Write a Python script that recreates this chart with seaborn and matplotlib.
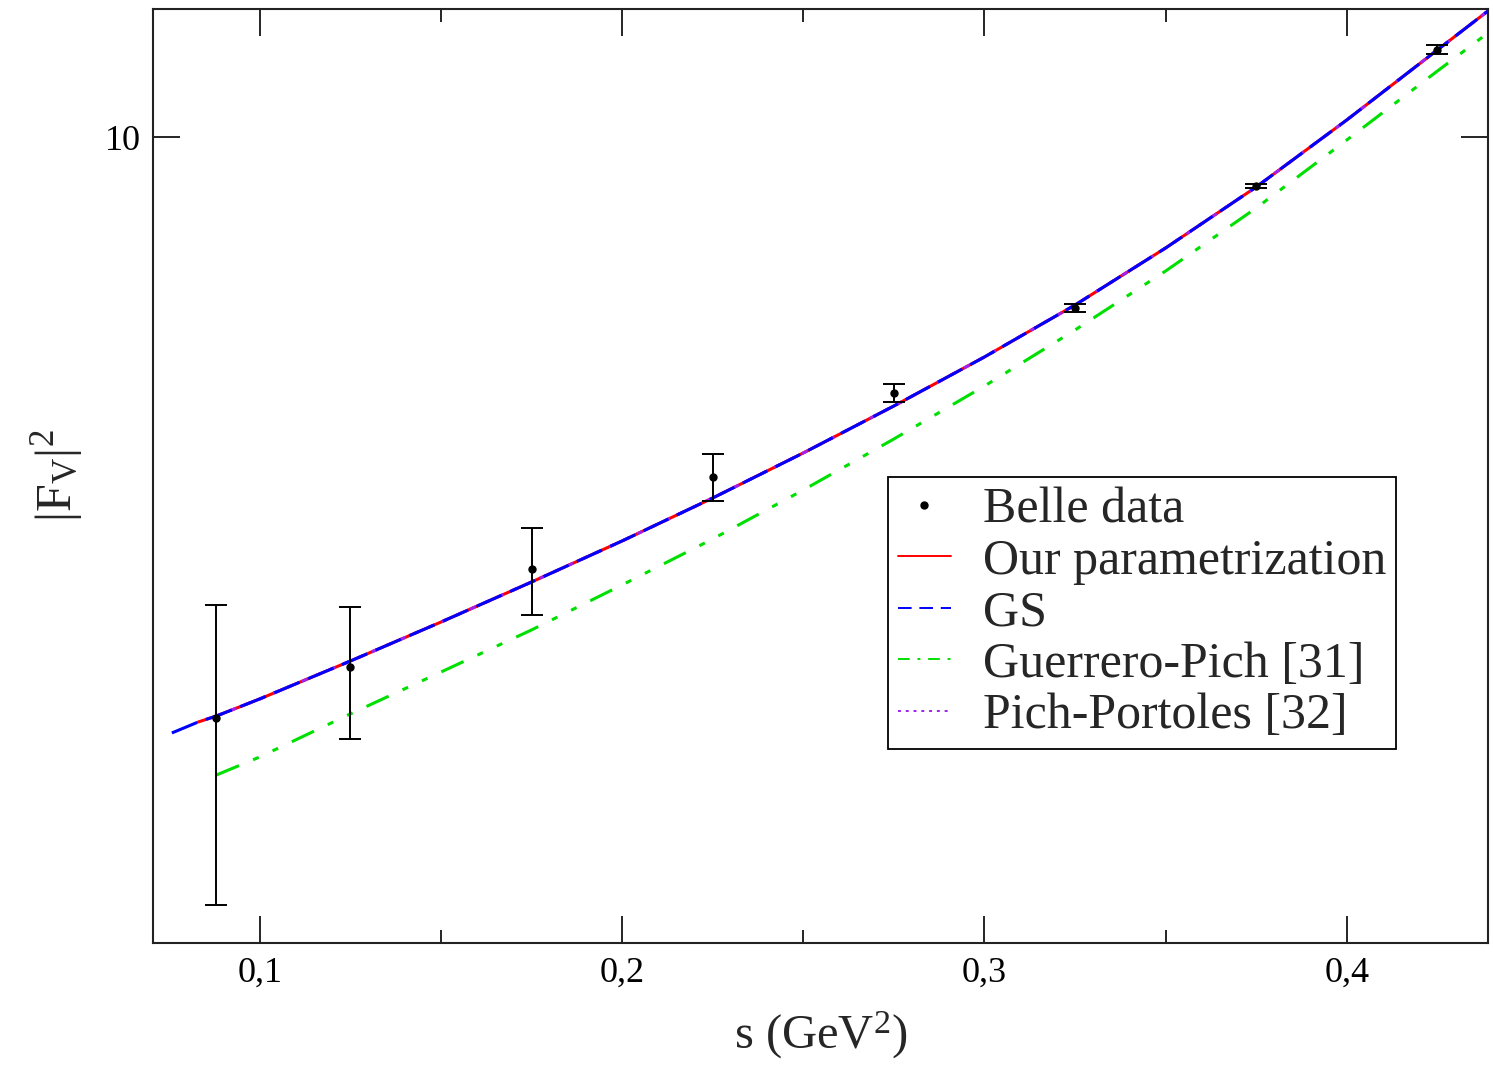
import numpy as np
import pandas as pd
import matplotlib
matplotlib.use("Agg")
import matplotlib.pyplot as plt
from matplotlib.lines import Line2D
from matplotlib.ticker import NullLocator, FixedLocator
import seaborn as sns

# Belle measurements of |F_V|^2
belle_s = [0.088, 0.125, 0.175, 0.225, 0.275, 0.325, 0.375, 0.425]
belle_f2 = [2.624, 2.951, 3.698, 4.571, 5.546, 6.745, 8.933, 12.22]
belle_err_lo = [0.918, 0.451, 0.371, 0.246, 0.113, 0.062, 0.040, 0.11]
belle_err_hi = [0.780, 0.437, 0.366, 0.248, 0.116, 0.063, 0.040, 0.14]

# Our parametrization
ours_s = [0.083, 0.088, 0.1, 0.125, 0.15, 0.175, 0.2, 0.225, 0.25, 0.275,
          0.3, 0.325, 0.35, 0.375, 0.4, 0.425, 0.439]
ours_f2 = [2.600, 2.636, 2.742, 2.992, 3.273, 3.589, 3.945, 4.355, 4.831,
           5.383, 6.026, 6.792, 7.745, 8.913, 10.40, 12.22, 13.37]

# Gounaris-Sakurai
gs_s = [0.0757, 0.083, 0.088, 0.1, 0.125, 0.15, 0.175, 0.2, 0.225, 0.25,
        0.275, 0.3, 0.325, 0.35, 0.375, 0.4, 0.425, 0.439]
gs_f2 = [2.535, 2.600, 2.636, 2.742, 2.992, 3.273, 3.589, 3.945, 4.355,
         4.831, 5.383, 6.026, 6.792, 7.745, 8.913, 10.40, 12.22, 13.37]

# Guerrero-Pich
gp_s = [0.088, 0.1, 0.125, 0.15, 0.175, 0.2, 0.225, 0.25, 0.275, 0.3,
        0.325, 0.35, 0.375, 0.4, 0.425, 0.439]
gp_f2 = [2.301, 2.399, 2.649, 2.917, 3.214, 3.565, 3.963, 4.436, 4.989,
         5.636, 6.412, 7.345, 8.492, 9.931, 11.64, 12.71]

# Pich-Portoles
pp_s = [0.088, 0.1, 0.125, 0.15, 0.175, 0.2, 0.225, 0.25, 0.275, 0.3,
        0.325, 0.35, 0.375, 0.4, 0.425, 0.439]
pp_f2 = [2.636, 2.742, 2.992, 3.273, 3.589, 3.945, 4.355, 4.831, 5.383,
         6.026, 6.792, 7.745, 8.913, 10.40, 12.22, 13.37]

x_ticks = [0.1, 0.2, 0.3, 0.4]
x_ticklabels = ["0,1", "0,2", "0,3", "0,4"]
x_minor = [0.15, 0.25, 0.35]
y_ticks = [10]
y_ticklabels = ["10"]

sns.set_style("ticks")
plt.rcParams["font.family"] = ["Liberation Serif", "DejaVu Serif"]
plt.rcParams["mathtext.fontset"] = "custom"
plt.rcParams["mathtext.rm"] = "Liberation Serif"
plt.rcParams["mathtext.it"] = "Liberation Serif:italic"

fig = plt.figure(figsize=(14.93, 10.65), dpi=100)
ax = fig.add_axes([0.1025, 0.1146, 0.8942, 0.8770])

sns.lineplot(x=gp_s, y=gp_f2, ax=ax, color="#00e000", lw=2.2,
             linestyle=(0, (8, 5, 2, 5, 2, 5)), sort=False)
sns.lineplot(x=ours_s, y=ours_f2, ax=ax, color="#ff0000", lw=2.2, sort=False)
sns.lineplot(x=pp_s, y=pp_f2, ax=ax, color="#a020f0", lw=2.2,
             linestyle=(0, (2, 3)), sort=False)
sns.lineplot(x=gs_s, y=gs_f2, ax=ax, color="#0000ff", lw=2.2,
             linestyle=(0, (9, 3)), sort=False)

yerr = np.array([belle_err_lo, belle_err_hi])
ax.errorbar(belle_s, belle_f2, yerr=yerr, fmt="o", color="black", ms=5,
            elinewidth=1.4, capsize=8, capthick=1.4, zorder=5)

ax.set_yscale("log")
ax.set_xlim(0.0705, 0.439)
ax.set_ylim(1.563, 13.43)

ax.xaxis.set_major_locator(FixedLocator(x_ticks))
ax.set_xticklabels(x_ticklabels)
ax.xaxis.set_minor_locator(FixedLocator(x_minor))
ax.yaxis.set_major_locator(FixedLocator(y_ticks))
ax.set_yticklabels(y_ticklabels)
ax.yaxis.set_minor_locator(NullLocator())

ax.tick_params(which="both", direction="in", top=True, right=True,
               width=1.2, colors="black", labelsize=26)
ax.tick_params(which="major", length=19.5)
ax.tick_params(which="minor", length=9.5)
ax.tick_params(axis="x", which="major", pad=10)
ax.tick_params(axis="y", which="major", pad=9)
for sp in ax.spines.values():
    sp.set_linewidth(1.5)
    sp.set_color("#222222")

ax.set_xlabel(r"s (GeV$^{2}$)", fontsize=35, labelpad=14)
ax.set_ylabel(r"$|\mathrm{F}_{\mathrm{V}}|^{2}$", fontsize=36, labelpad=14)

handles = [
    Line2D([], [], marker="o", color="black", ms=5, linestyle="none"),
    Line2D([], [], color="#ff0000", lw=1.4),
    Line2D([], [], color="#0000ff", lw=1.4, linestyle=(0, (7, 4))),
    Line2D([], [], color="#00e000", lw=1.4, linestyle=(0, (6, 4, 1.5, 4))),
    Line2D([], [], color="#a020f0", lw=1.4, linestyle=(0, (1.5, 2.5))),
]
labels = ["Belle data", "Our parametrization", "GS", "Guerrero-Pich [31]",
          "Pich-Portoles [32]"]
leg = ax.legend(handles, labels, loc="upper left",
                bbox_to_anchor=(0.5506, 0.4989), fontsize=36,
                frameon=True, fancybox=False, framealpha=1,
                edgecolor="black", borderaxespad=0, borderpad=0.2,
                handlelength=1.05, handletextpad=0.65, labelspacing=0.1)
leg.get_frame().set_linewidth(1.3)

fig.savefig("out.png", dpi=100)
